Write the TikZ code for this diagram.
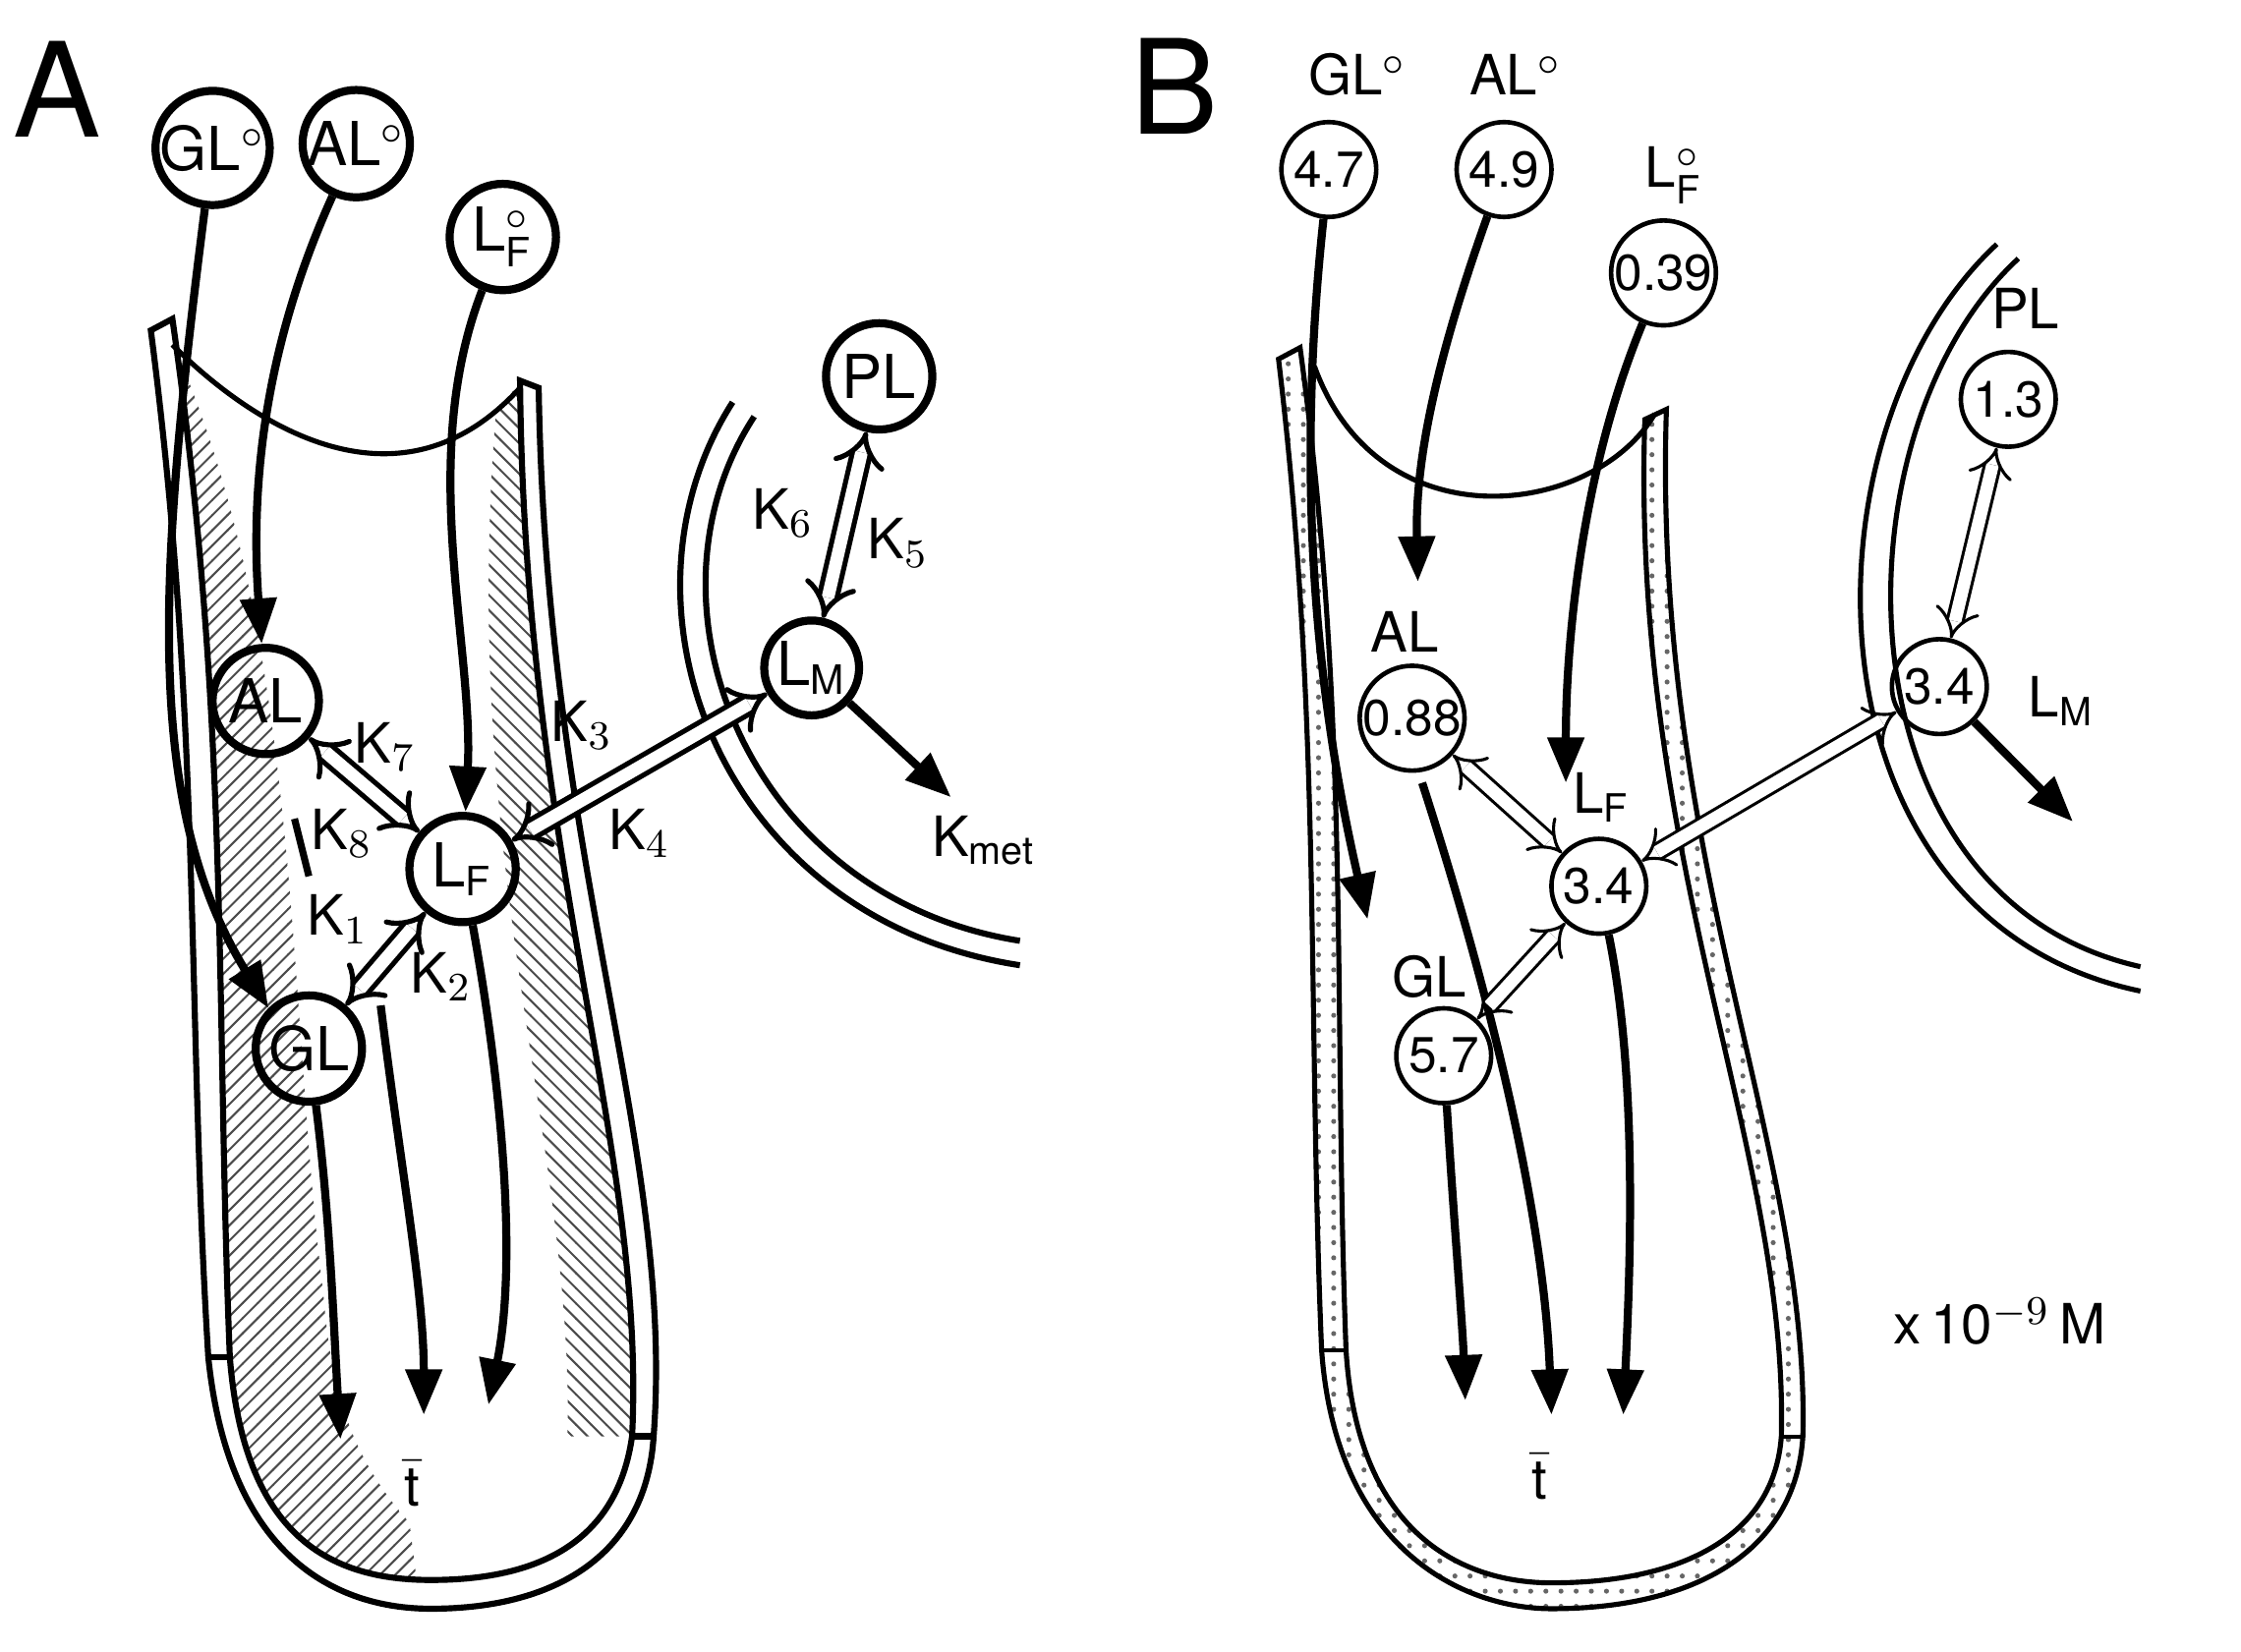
\documentclass[tikz,border=0pt]{standalone}
\usepackage{fontspec}
\setmainfont{TeX Gyre Heros}
\usetikzlibrary{arrows.meta,patterns}
\tikzset{
  pool/.style={circle,draw,line width=1.6pt,minimum size=0.74cm,inner sep=0pt,font=\fontsize{12}{12}\selectfont},
  poolb/.style={circle,draw,line width=0.9pt,minimum size=0.66cm,inner sep=0pt,font=\fontsize{10}{10}\selectfont},
  flow/.style={line width=1.6pt,-{Triangle[length=9pt,width=7pt]}},
  xch/.style={double,double distance=2.5pt,line width=1pt,{Implies}-{Implies}},
  xchb/.style={double,double distance=2.5pt,line width=0.6pt,{Implies}-{Implies}},
  lbl/.style={font=\fontsize{11}{11}\selectfont},
  wall/.style={line width=1.2pt}
}
\begin{document}
\begin{tikzpicture}[x=0.01cm,y=-0.01cm]
  \useasboundingbox (0,0) rectangle (1560,1150);
  % panel A: vessel
  \fill[pattern=north east lines,pattern color=black!70] (120,222) .. controls (160,500) and (150,700) .. (160,945)
    .. controls (170,1070) and (230,1098) .. (290,1100) -- (285,1060) .. controls (240,1010) and (230,960) .. (225,900)
    .. controls (200,700) and (210,450) .. (125,250) -- cycle;
  \fill[pattern=north west lines,pattern color=black!70] (362,265) .. controls (365,600) and (450,800) .. (440,1000)
    -- (395,1000) .. controls (400,800) and (320,600) .. (345,290) -- cycle;
  \draw[wall] (105,230) .. controls (140,500) and (130,700) .. (145,945)
    .. controls (160,1090) and (240,1120) .. (300,1120) .. controls (390,1120) and (450,1080) .. (455,1000)
    .. controls (470,800) and (380,600) .. (375,270) -- (362,265)
    .. controls (365,600) and (450,800) .. (440,1000)
    .. controls (430,1070) and (380,1100) .. (300,1100) .. controls (230,1100) and (170,1070) .. (160,945)
    .. controls (150,700) and (160,500) .. (120,222) -- cycle;
  \draw[wall] (145,945) -- (160,945) (440,1000) -- (455,1000);
  \draw[line width=1pt] (120,240) .. controls (180,300) and (280,360) .. (362,270);
  % panel A: cell
  \draw[wall] (510,280) .. controls (420,420) and (500,640) .. (710,672);
  \draw[wall] (525,290) .. controls (440,420) and (520,625) .. (710,655);
  % panel A: pools
  \node at (40,62) {\fontsize{26}{26}\selectfont A};
  \node[pool] (GLoA) at (148,103) {GL$^{\circ}$};
  \node[pool] (ALoA) at (248,100) {AL$^{\circ}$};
  \node[pool] (LFoA) at (350,165) {L$_\mathrm{F}^{\circ}$};
  \node[pool] (PLA) at (612,262) {PL};
  \node[pool,minimum size=0.66cm] (LMA) at (565,465) {L$_\mathrm{M}$};
  \node[pool] (ALA) at (185,488) {AL};
  \node[pool] (LFA) at (322,605) {L$_\mathrm{F}$};
  \node[pool] (GLA) at (215,730) {GL};
  \coordinate (tA1) at (237,1002);
  \coordinate (tA2) at (295,985);
  \coordinate (tA3) at (340,978);
  \coordinate (metA) at (662,555);
  \draw[flow] (GLoA) .. controls (110,400) and (100,560) .. (GLA.north west);
  \draw[flow] (ALoA) .. controls (180,250) and (175,350) .. (ALA);
  \draw[flow] (LFoA) .. controls (290,320) and (330,450) .. (LFA);
  \draw[flow] (GLA) .. controls (230,850) and (232,920) .. (tA1);
  \draw[flow] (265,700) .. controls (280,820) and (295,900) .. (tA2);
  \draw[flow] (LFA) .. controls (350,760) and (360,880) .. (tA3);
  \draw[line width=1.4pt] (205,570) -- (215,610);
  \draw[flow] (LMA) -- (metA);
  \draw[xch] (ALA) -- (LFA);
  \draw[xch] (LFA) -- (GLA);
  \draw[xch] (LFA) -- (LMA);
  \draw[xch] (PLA) -- (LMA);
  \node[lbl] at (268,520) {K$_7$};
  \node[lbl] at (238,580) {K$_8$};
  \node[lbl] at (235,640) {K$_1$};
  \node[lbl] at (307,680) {K$_2$};
  \node[lbl] at (405,505) {K$_3$};
  \node[lbl] at (445,580) {K$_4$};
  \node[lbl] at (545,357) {K$_6$};
  \node[lbl] at (625,378) {K$_5$};
  \node[lbl] at (685,585) {K$_\mathrm{met}$};
  \node[lbl,fill=white,inner sep=1pt] at (287,1033) {$\bar{\mathrm{t}}$};
  % panel B: vessel
  \fill[pattern=dots,pattern color=black!60] (890,250) .. controls (920,500) and (910,700) .. (920,940)
    .. controls (930,1080) and (1020,1120) .. (1080,1120) .. controls (1180,1120) and (1250,1080) .. (1255,1000)
    .. controls (1260,800) and (1150,600) .. (1160,285) -- (1145,292)
    .. controls (1135,600) and (1245,800) .. (1240,1000)
    .. controls (1235,1070) and (1170,1102) .. (1080,1102) .. controls (1020,1102) and (945,1070) .. (937,940)
    .. controls (928,700) and (940,500) .. (905,242) -- cycle;
  \draw[line width=1pt] (890,250) .. controls (920,500) and (910,700) .. (920,940)
    .. controls (930,1080) and (1020,1120) .. (1080,1120) .. controls (1180,1120) and (1250,1080) .. (1255,1000)
    .. controls (1260,800) and (1150,600) .. (1160,285) -- (1145,292)
    .. controls (1135,600) and (1245,800) .. (1240,1000)
    .. controls (1235,1070) and (1170,1102) .. (1080,1102) .. controls (1020,1102) and (945,1070) .. (937,940)
    .. controls (928,700) and (940,500) .. (905,242) -- cycle;
  \draw[line width=0.8pt] (920,940) -- (937,940) (1240,1000) -- (1255,1000);
  \draw[line width=1pt] (915,255) .. controls (960,380) and (1110,360) .. (1152,288);
  % panel B: cell
  \draw[line width=1pt] (1390,170) .. controls (1250,300) and (1250,640) .. (1490,690);
  \draw[line width=1pt] (1405,180) .. controls (1275,300) and (1275,625) .. (1490,673);
  % panel B: pools
  \node at (818,60) {\fontsize{26}{26}\selectfont B};
  \node[poolb] (GLoB) at (925,118) {4.7};
  \node[poolb] (ALoB) at (1047,118) {4.9};
  \node[poolb] (LFoB) at (1158,190) {0.39};
  \node[poolb] (PLB) at (1398,278) {1.3};
  \node[poolb] (LMB) at (1350,478) {3.4};
  \node[poolb] (ALB) at (983,500) {0.88};
  \node[poolb] (LFB) at (1113,617) {3.4};
  \node[poolb] (GLB) at (1005,735) {5.7};
  \node[lbl] at (945,52) {GL$^{\circ}$};
  \node[lbl] at (1055,52) {AL$^{\circ}$};
  \node[lbl] at (1165,122) {L$_\mathrm{F}^{\circ}$};
  \node[lbl] at (1410,215) {PL};
  \node[lbl] at (1435,488) {L$_\mathrm{M}$};
  \node[lbl] at (978,440) {AL};
  \node[lbl] at (1115,555) {L$_\mathrm{F}$};
  \node[lbl] at (995,680) {GL};
  \coordinate (tB1) at (1020,975);
  \coordinate (tB2) at (1080,985);
  \coordinate (tB3) at (1130,985);
  \coordinate (metB) at (1443,572);
  \draw[flow] (GLoB) .. controls (900,350) and (920,500) .. (952,640);
  \draw[flow] (ALoB) .. controls (1000,250) and (985,320) .. (987,405);
  \draw[flow] (LFoB) .. controls (1100,330) and (1090,450) .. (1090,545);
  \draw[flow] (GLB) .. controls (1012,850) and (1018,920) .. (tB1);
  \draw[flow] (990,545) .. controls (1040,700) and (1075,850) .. (tB2);
  \draw[flow] (LFB) .. controls (1140,750) and (1135,880) .. (tB3);
  \draw[flow] (LMB) -- (metB);
  \draw[xchb] (ALB) -- (LFB);
  \draw[xchb] (LFB) -- (GLB);
  \draw[xchb] (LFB) -- (LMB);
  \draw[xchb] (PLB) -- (LMB);
  \node[lbl] at (1072,1028) {$\bar{\mathrm{t}}$};
  \node[lbl] at (1392,920) {x\,10$^{-9}$\,M};
\end{tikzpicture}
\end{document}
